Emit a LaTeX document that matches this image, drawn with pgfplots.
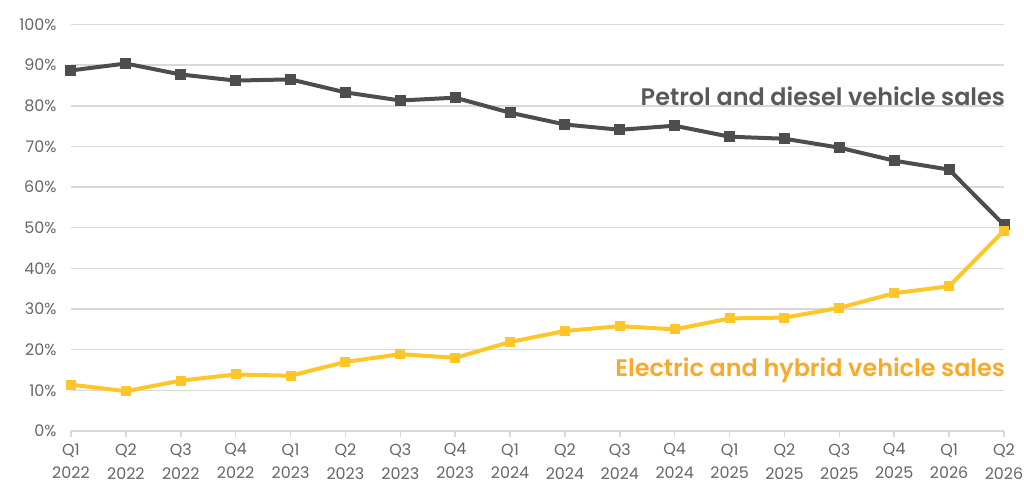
\documentclass[border=0pt]{standalone}
\usepackage{pgfplots}
\pgfplotsset{compat=1.18}
\usepackage{fontspec}
\setmainfont{Poppins}[BoldFont={Poppins SemiBold}]
\definecolor{petrol}{HTML}{4D4D4D}
\definecolor{petroltext}{HTML}{595959}
\definecolor{elec}{HTML}{FFC629}
\definecolor{electext}{HTML}{FBA92A}
\definecolor{gridc}{HTML}{D9D9D9}
\definecolor{tickc}{HTML}{666666}
\begin{document}
\begin{tikzpicture}
\useasboundingbox (-71bp,-69bp) rectangle (953bp,431bp);
\begin{axis}[
  scale only axis,
  width=933bp, height=406.5bp,
  xmin=0, xmax=17, ymin=0, ymax=100,
  axis line style={draw=none},
  ytick={0,10,...,100},
  yticklabel={\pgfmathprintnumber{\tick}\%},
  /pgf/number format/assume math mode=true,
  ymajorgrids, grid style={gridc, line width=1.5bp},
  major y tick style={draw=none},
  xtick={0,...,17},
  xtick pos=bottom, ytick pos=left,
  xticklabels={Q1\\2022,Q2\\2022,Q3\\2022,Q4\\2022,Q1\\2023,Q2\\2023,Q3\\2023,Q4\\2023,Q1\\2024,Q2\\2024,Q3\\2024,Q4\\2024,Q1\\2025,Q2\\2025,Q3\\2025,Q4\\2025,Q1\\2026,Q2\\2026},
  xticklabel style={align=center, font=\fontsize{16}{24}\selectfont, text=tickc, yshift=-3bp},
  yticklabel style={font=\fontsize{16}{18}\selectfont, text=tickc, xshift=-5bp},
  x tick style={draw=gridc, line width=1.5bp},
  tick align=outside, major tick length=6bp,
  clip=false,
]
\draw[gridc, line width=1.5bp] (axis cs:0,0) -- (axis cs:17,0);
\addplot[petrol, line width=4bp, mark=square*, mark size=3.5bp, mark options={solid}] coordinates {
(0,88.7)(1,90.4)(2,87.7)(3,86.2)(4,86.5)(5,83.3)(6,81.3)(7,82.0)(8,78.3)(9,75.4)(10,74.1)(11,75.1)(12,72.4)(13,71.9)(14,69.7)(15,66.5)(16,64.3)(17,50.7)};
\addplot[elec, line width=4bp, mark=square*, mark size=3bp, mark options={solid}] coordinates {
(0,11.4)(1,9.8)(2,12.4)(3,13.9)(4,13.6)(5,17.0)(6,18.9)(7,18.0)(8,21.9)(9,24.6)(10,25.8)(11,25.0)(12,27.7)(13,27.9)(14,30.3)(15,33.9)(16,35.6)(17,49.3)};
\node[anchor=east, font=\fontsize{24}{28}\selectfont\bfseries, text=petroltext, inner sep=0pt] at (axis cs:17.02,82.4) {Petrol and diesel vehicle sales};
\node[anchor=east, font=\fontsize{24}{28}\selectfont\bfseries, text=electext, inner sep=0pt] at (axis cs:17.02,15.0) {Electric and hybrid vehicle sales};
\end{axis}
\end{tikzpicture}
\end{document}
